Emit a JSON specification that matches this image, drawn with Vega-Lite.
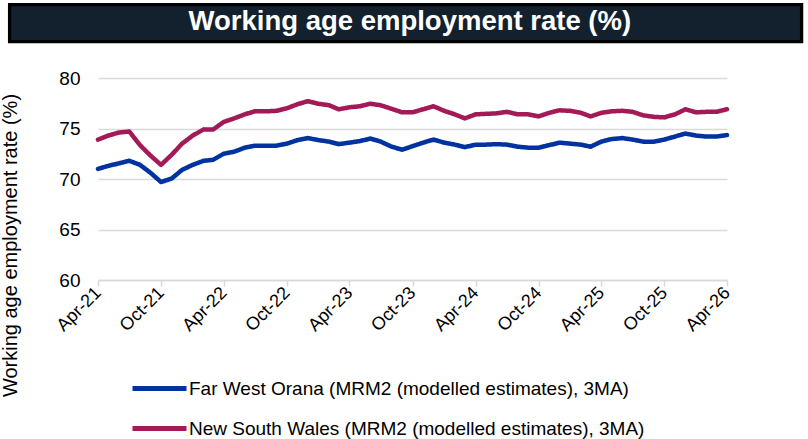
{
  "$schema": "https://vega.github.io/schema/vega-lite/v6.json",
  "autosize": {"type": "none"},
  "padding": {"left": 98, "top": 78, "right": 81, "bottom": 159},
  "width": 629,
  "height": 202,
  "config": {"font": "Liberation Sans", "view": {"stroke": null}},
  "data": {"values": [
    {"month": "2021/04/01", "Far West Orana": 71.0, "New South Wales": 73.9},
    {"month": "2021/05/01", "Far West Orana": 71.3, "New South Wales": 74.3},
    {"month": "2021/06/01", "Far West Orana": 71.55, "New South Wales": 74.6},
    {"month": "2021/07/01", "Far West Orana": 71.8, "New South Wales": 74.7},
    {"month": "2021/08/01", "Far West Orana": 71.4, "New South Wales": 73.35},
    {"month": "2021/09/01", "Far West Orana": 70.6, "New South Wales": 72.3},
    {"month": "2021/10/01", "Far West Orana": 69.7, "New South Wales": 71.4},
    {"month": "2021/11/01", "Far West Orana": 70.05, "New South Wales": 72.4},
    {"month": "2021/12/01", "Far West Orana": 70.9, "New South Wales": 73.5},
    {"month": "2022/01/01", "Far West Orana": 71.4, "New South Wales": 74.3},
    {"month": "2022/02/01", "Far West Orana": 71.8, "New South Wales": 74.9},
    {"month": "2022/03/01", "Far West Orana": 71.9, "New South Wales": 74.9},
    {"month": "2022/04/01", "Far West Orana": 72.5, "New South Wales": 75.65},
    {"month": "2022/05/01", "Far West Orana": 72.7, "New South Wales": 76.0},
    {"month": "2022/06/01", "Far West Orana": 73.1, "New South Wales": 76.4},
    {"month": "2022/07/01", "Far West Orana": 73.3, "New South Wales": 76.7},
    {"month": "2022/08/01", "Far West Orana": 73.3, "New South Wales": 76.7},
    {"month": "2022/09/01", "Far West Orana": 73.3, "New South Wales": 76.75},
    {"month": "2022/10/01", "Far West Orana": 73.5, "New South Wales": 77.0},
    {"month": "2022/11/01", "Far West Orana": 73.85, "New South Wales": 77.4},
    {"month": "2022/12/01", "Far West Orana": 74.05, "New South Wales": 77.7},
    {"month": "2023/01/01", "Far West Orana": 73.85, "New South Wales": 77.45},
    {"month": "2023/02/01", "Far West Orana": 73.7, "New South Wales": 77.3},
    {"month": "2023/03/01", "Far West Orana": 73.45, "New South Wales": 76.9},
    {"month": "2023/04/01", "Far West Orana": 73.6, "New South Wales": 77.1},
    {"month": "2023/05/01", "Far West Orana": 73.75, "New South Wales": 77.2},
    {"month": "2023/06/01", "Far West Orana": 74.0, "New South Wales": 77.45},
    {"month": "2023/07/01", "Far West Orana": 73.7, "New South Wales": 77.3},
    {"month": "2023/08/01", "Far West Orana": 73.2, "New South Wales": 76.95},
    {"month": "2023/09/01", "Far West Orana": 72.9, "New South Wales": 76.6},
    {"month": "2023/10/01", "Far West Orana": 73.25, "New South Wales": 76.6},
    {"month": "2023/11/01", "Far West Orana": 73.6, "New South Wales": 76.9},
    {"month": "2023/12/01", "Far West Orana": 73.9, "New South Wales": 77.2},
    {"month": "2024/01/01", "Far West Orana": 73.6, "New South Wales": 76.75},
    {"month": "2024/02/01", "Far West Orana": 73.4, "New South Wales": 76.4},
    {"month": "2024/03/01", "Far West Orana": 73.15, "New South Wales": 76.0},
    {"month": "2024/04/01", "Far West Orana": 73.4, "New South Wales": 76.4},
    {"month": "2024/05/01", "Far West Orana": 73.4, "New South Wales": 76.45},
    {"month": "2024/06/01", "Far West Orana": 73.45, "New South Wales": 76.5},
    {"month": "2024/07/01", "Far West Orana": 73.4, "New South Wales": 76.65},
    {"month": "2024/08/01", "Far West Orana": 73.2, "New South Wales": 76.4},
    {"month": "2024/09/01", "Far West Orana": 73.1, "New South Wales": 76.4},
    {"month": "2024/10/01", "Far West Orana": 73.1, "New South Wales": 76.2},
    {"month": "2024/11/01", "Far West Orana": 73.35, "New South Wales": 76.55},
    {"month": "2024/12/01", "Far West Orana": 73.6, "New South Wales": 76.8},
    {"month": "2025/01/01", "Far West Orana": 73.5, "New South Wales": 76.75},
    {"month": "2025/02/01", "Far West Orana": 73.4, "New South Wales": 76.55},
    {"month": "2025/03/01", "Far West Orana": 73.2, "New South Wales": 76.2},
    {"month": "2025/04/01", "Far West Orana": 73.7, "New South Wales": 76.55},
    {"month": "2025/05/01", "Far West Orana": 73.95, "New South Wales": 76.7},
    {"month": "2025/06/01", "Far West Orana": 74.05, "New South Wales": 76.75},
    {"month": "2025/07/01", "Far West Orana": 73.9, "New South Wales": 76.65},
    {"month": "2025/08/01", "Far West Orana": 73.7, "New South Wales": 76.3},
    {"month": "2025/09/01", "Far West Orana": 73.7, "New South Wales": 76.15},
    {"month": "2025/10/01", "Far West Orana": 73.9, "New South Wales": 76.1},
    {"month": "2025/11/01", "Far West Orana": 74.2, "New South Wales": 76.4},
    {"month": "2025/12/01", "Far West Orana": 74.5, "New South Wales": 76.9},
    {"month": "2026/01/01", "Far West Orana": 74.3, "New South Wales": 76.6},
    {"month": "2026/02/01", "Far West Orana": 74.2, "New South Wales": 76.65},
    {"month": "2026/03/01", "Far West Orana": 74.2, "New South Wales": 76.65},
    {"month": "2026/04/01", "Far West Orana": 74.35, "New South Wales": 76.9}
  ]},
  "transform": [{"fold": ["Far West Orana", "New South Wales"], "as": ["series", "value"]}],
  "encoding": {
    "x": {
      "field": "month", "type": "temporal",
      "scale": {"domain": [{"year": 2021, "month": 4, "date": 1}, {"year": 2026, "month": 4, "date": 1}], "nice": false},
      "axis": {
        "title": null,
        "values": [
          {"year": 2021, "month": 4, "date": 1}, {"year": 2021, "month": 10, "date": 1},
          {"year": 2022, "month": 4, "date": 1}, {"year": 2022, "month": 10, "date": 1},
          {"year": 2023, "month": 4, "date": 1}, {"year": 2023, "month": 10, "date": 1},
          {"year": 2024, "month": 4, "date": 1}, {"year": 2024, "month": 10, "date": 1},
          {"year": 2025, "month": 4, "date": 1}, {"year": 2025, "month": 10, "date": 1},
          {"year": 2026, "month": 4, "date": 1}
        ],
        "format": "%b-%y",
        "labelAngle": -45,
        "labelAlign": "right",
        "labelBaseline": "middle",
        "labelPadding": 4,
        "labelFontSize": 18,
        "labelColor": "#000000",
        "labelOverlap": false,
        "labelFlush": false,
        "grid": false,
        "domainColor": "#d9d9d9",
        "domainWidth": 1.5,
        "tickColor": "#d9d9d9",
        "tickWidth": 1.5,
        "tickSize": 6
      }
    },
    "y": {
      "field": "value", "type": "quantitative",
      "scale": {"domain": [60, 80], "nice": false, "zero": false},
      "axis": {
        "title": "Working age employment rate (%)",
        "titleFontSize": 20,
        "titleFontWeight": "normal",
        "titleColor": "#000000",
        "titleX": -78,
        "titleY": 167,
        "values": [60, 65, 70, 75, 80],
        "domain": false,
        "ticks": false,
        "labelPadding": 18,
        "labelFontSize": 19,
        "labelColor": "#000000",
        "gridColor": "#d9d9d9",
        "gridWidth": 1.5
      }
    }
  },
  "layer": [
    {
      "mark": {"type": "circle", "opacity": 0},
      "encoding": {
        "fill": {
          "datum": 0.5,
          "type": "quantitative",
          "scale": {"domain": [0, 1], "range": ["#13212e", "#13212e"]},
          "legend": {
            "title": null,
            "orient": "none",
            "direction": "horizontal",
            "legendX": -88.4,
            "legendY": -73.4,
            "padding": 0,
            "gradientLength": 792,
            "gradientThickness": 37,
            "gradientStrokeColor": "#000000",
            "gradientStrokeWidth": 3.3,
            "labelOpacity": 0,
            "zindex": 1
          }
        }
      }
    },
    {
      "mark": {"type": "line", "strokeWidth": 4.5, "strokeJoin": "round", "strokeCap": "round"},
      "encoding": {
        "color": {
          "field": "series", "type": "nominal",
          "scale": {"domain": ["Far West Orana", "New South Wales"], "range": ["#0033a0", "#a31a56"]},
          "legend": {
            "title": null,
            "orient": "none",
            "legendX": 32,
            "legendY": 281,
            "direction": "vertical",
            "symbolType": "stroke",
            "symbolStrokeWidth": 5,
            "symbolSize": 2916,
            "labelFontSize": 19,
            "labelColor": "#000000",
            "labelOffset": 0,
            "rowPadding": -30,
            "labelLimit": 700,
            "labelExpr": "datum.label + ' (MRM2 (modelled estimates), 3MA)'",
            "zindex": 1
          }
        },
        "strokeDash": {
          "datum": "Working age employment rate (%)",
          "type": "nominal",
          "scale": {"range": [[1, 0]]},
          "legend": {
            "title": null,
            "orient": "none",
            "legendX": 63,
            "legendY": -70,
            "padding": 0,
            "symbolOpacity": 0,
            "symbolStrokeWidth": 0,
            "symbolSize": 1,
            "labelFontSize": 27.5,
            "labelFontWeight": "bold",
            "labelColor": "#ffffff",
            "labelOffset": 0,
            "labelLimit": 800,
            "zindex": 2
          }
        }
      }
    }
  ]
}
